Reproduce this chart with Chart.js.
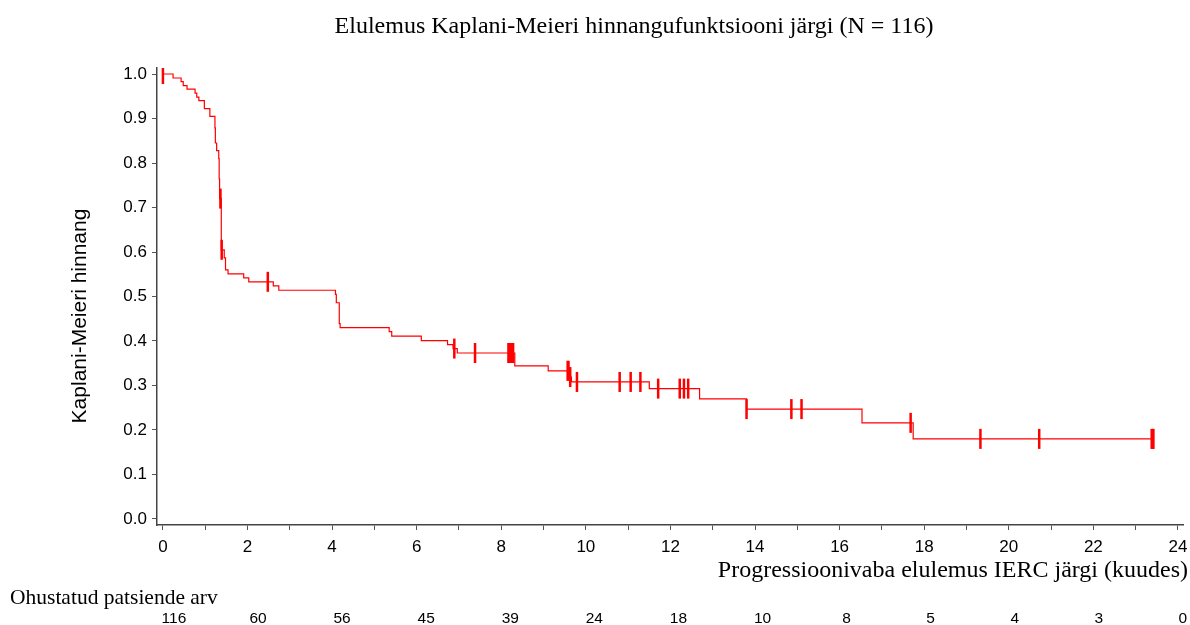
<!DOCTYPE html>
<html>
<head>
<meta charset="utf-8">
<script src="https://cdn.jsdelivr.net/npm/chart.js@4"></script>
<style>
html, body { margin: 0; padding: 0; background: #fff; }
</style>
</head>
<body>
<canvas id="km" width="1190" height="625"></canvas>
<script>
// Kaplan-Meier steps: time (months) and survival after the step
const kmTime = [0, 0.24, 0.43, 0.48, 0.57, 0.76, 0.80, 0.85, 0.98, 1.11, 1.23, 1.24, 1.27, 1.32, 1.33,
  1.34, 1.38, 1.45, 1.48, 1.54, 1.91, 2.03, 2.61, 2.74, 4.08, 4.10, 4.17, 4.19, 5.35, 5.41, 6.11,
  6.73, 6.86, 6.96, 8.32, 9.11, 9.62, 9.66, 11.50, 12.69, 13.80, 16.53, 17.74, 23.42];
const kmSurv = [1.0, 0.991, 0.983, 0.974, 0.966, 0.957, 0.948, 0.940, 0.922, 0.905, 0.879, 0.845, 0.828, 0.810, 0.764,
  0.720, 0.605, 0.587, 0.560, 0.551, 0.542, 0.533, 0.524, 0.514, 0.505, 0.486, 0.439, 0.430, 0.421, 0.411, 0.401,
  0.392, 0.383, 0.373, 0.344, 0.333, 0.319, 0.308, 0.293, 0.270, 0.247, 0.216, 0.180, 0.180];
// censored observations (months)
const censorTime = [0, 1.36, 1.39, 2.48, 6.89, 7.38, 8.17, 8.20, 8.22, 8.25, 8.28, 9.57, 9.59, 9.63,
  9.79, 10.80, 11.06, 11.29, 11.71, 12.22, 12.32, 12.42, 13.80, 14.86, 15.10, 17.68, 19.33, 20.72,
  23.38, 23.40, 23.42];
// number at risk
const riskTime = [0, 2, 4, 6, 8, 10, 12, 14, 16, 18, 20, 22, 24];
const riskCount = [116, 60, 56, 45, 39, 24, 18, 10, 8, 5, 4, 3, 0];

const chartTitle = "Elulemus Kaplani-Meieri hinnangufunktsiooni järgi (N = 116)";
const xTitle = "Progressioonivaba elulemus IERC järgi (kuudes)";
const yTitle = "Kaplani-Meieri hinnang";
const riskTitle = "Ohustatud patsiende arv";

const survAt = (t) => {
  let s = kmSurv[0];
  kmTime.forEach((x, i) => { if (x <= t) s = kmSurv[i]; });
  return s;
};

const textPlugin = {
  id: "kmText",
  afterDraw(chart) {
    const ctx = chart.ctx;
    const x = chart.scales.x;
    ctx.save();
    ctx.fillStyle = "#000";
    ctx.textBaseline = "middle";
    ctx.font = '24px "Liberation Serif"';
    ctx.textAlign = "center";
    ctx.fillText(chartTitle, 634, 27);
    ctx.textAlign = "right";
    ctx.fillText(xTitle, 1188, 571);
    ctx.textAlign = "left";
    ctx.font = '21.5px "Liberation Serif"';
    ctx.fillText(riskTitle, 10, 598);
    // risk table sits a little right of each tick
    ctx.font = '15.5px "Liberation Sans"';
    ctx.textAlign = "center";
    riskTime.forEach((t, i) => ctx.fillText(riskCount[i], x.getPixelForValue(t) + 11 - t * 0.25, 619));
    ctx.translate(80, 316);
    ctx.rotate(-Math.PI / 2);
    ctx.font = '21px "Liberation Sans"';
    ctx.fillText(yTitle, 0, 0);
    ctx.restore();
  },
};

const kmChart = new Chart(document.getElementById("km"), {
  type: "line",
  data: {
    datasets: [
      {
        data: kmTime.map((t, i) => ({ x: t, y: kmSurv[i] })),
        stepped: true,
        borderColor: "#ff0000",
        borderWidth: 1.2,
        pointRadius: 0,
        fill: false,
      },
      {
        data: censorTime.map((t) => ({ x: t, y: survAt(t) })),
        showLine: false,
        pointStyle: "line",
        rotation: 90,
        pointRadius: 10,
        borderColor: "#ff0000",
        borderWidth: 2.5,
      },
    ],
  },
  options: {
    responsive: false,
    animation: false,
    devicePixelRatio: 1,
    layout: { autoPadding: false, padding: { top: 68, right: 7, bottom: 0, left: 0 } },
    plugins: { legend: { display: false }, tooltip: { enabled: false }, title: { display: false } },
    scales: {
      x: {
        type: "linear",
        min: -0.14,
        max: 24.12,
        afterBuildTicks: (s) => { s.ticks = riskTime.concat(riskTime.slice(0, 12).map((t) => t + 1)).sort((a, b) => a - b).map((v) => ({ value: v })); },
        afterFit: (s) => { s.height = 100; s.paddingLeft = 0; s.paddingRight = 0; },
        ticks: {
          autoSkip: false,
          maxRotation: 0,
          padding: 7,
          color: "#000",
          font: { family: "Liberation Sans", size: 17 },
          callback: (v) => (v % 2 === 0 ? v : ""),
        },
        grid: { drawOnChartArea: false, drawTicks: true, tickLength: 5, color: "#555" },
        border: { color: "#444", width: 1.5 },
      },
      y: {
        min: -0.0135,
        max: 1.0135,
        afterBuildTicks: (s) => {
          const t = [];
          for (let i = 0; i <= 20; i++) t.push({ value: i * 5 / 100 });
          s.ticks = t;
        },
        afterFit: (s) => { s.width = 157; s.paddingTop = 0; s.paddingBottom = 0; },
        ticks: {
          padding: 5,
          color: "#000",
          font: { family: "Liberation Sans", size: 17 },
          callback: (v) => (Math.round(v * 100) % 10 === 0 ? v.toFixed(1) : ""),
        },
        grid: { drawOnChartArea: false, drawTicks: true, tickLength: 5, color: "#555" },
        border: { color: "#444", width: 1.5 },
      },
    },
  },
  plugins: [textPlugin],
});
</script>
</body>
</html>
